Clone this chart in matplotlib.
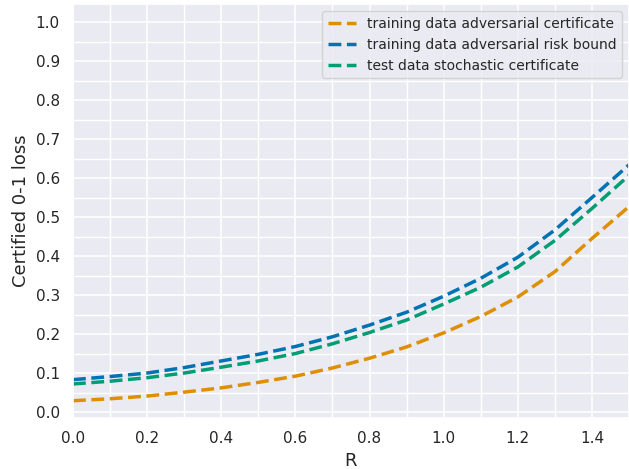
import matplotlib
matplotlib.use('Agg')
import matplotlib.pyplot as plt
import seaborn as sns
from matplotlib.ticker import MultipleLocator

sns.set_theme(style='darkgrid', palette='colorblind')

R = [0.0, 0.1, 0.2, 0.3, 0.4, 0.5, 0.6, 0.7, 0.8, 0.9, 1.0, 1.1, 1.2, 1.3, 1.4, 1.5]
train_adv_cert = [0.029, 0.034, 0.041, 0.051, 0.062, 0.076, 0.092, 0.113, 0.138,
                  0.167, 0.203, 0.245, 0.295, 0.360, 0.445, 0.527]
train_adv_risk = [0.083, 0.091, 0.100, 0.114, 0.131, 0.148, 0.168, 0.193, 0.223,
                  0.256, 0.297, 0.343, 0.397, 0.467, 0.550, 0.634]
test_stoch_cert = [0.072, 0.079, 0.088, 0.100, 0.115, 0.131, 0.150, 0.175, 0.204,
                   0.236, 0.277, 0.320, 0.372, 0.440, 0.522, 0.607]

colors = sns.color_palette('colorblind')

fig = plt.figure(figsize=(6.29, 4.69), dpi=100)
ax = fig.add_axes([0.116, 0.109, 0.884, 0.882])

ax.plot(R, train_adv_cert, '--', color=colors[1], lw=2.5, label='training data adversarial certificate')
ax.plot(R, train_adv_risk, '--', color=colors[0], lw=2.5, label='training data adversarial risk bound')
ax.plot(R, test_stoch_cert, '--', color=colors[2], lw=2.5, label='test data stochastic certificate')

ax.set_xlim(0, 1.5)
ax.set_ylim(-0.015, 1.046)
ax.xaxis.set_major_locator(MultipleLocator(0.2))
ax.xaxis.set_minor_locator(MultipleLocator(0.1))
ax.yaxis.set_major_locator(MultipleLocator(0.1))
ax.yaxis.set_minor_locator(MultipleLocator(0.05))
ax.grid(which='major', color='white', lw=1.1)
ax.grid(which='minor', color='white', lw=1.0)
ax.tick_params(which='minor', length=0)

ax.set_xlabel('R', fontsize=13)
ax.set_ylabel('Certified 0-1 loss', fontsize=13)
ax.legend(loc='upper right', fontsize=10)

fig.savefig('out.png', dpi=100)
